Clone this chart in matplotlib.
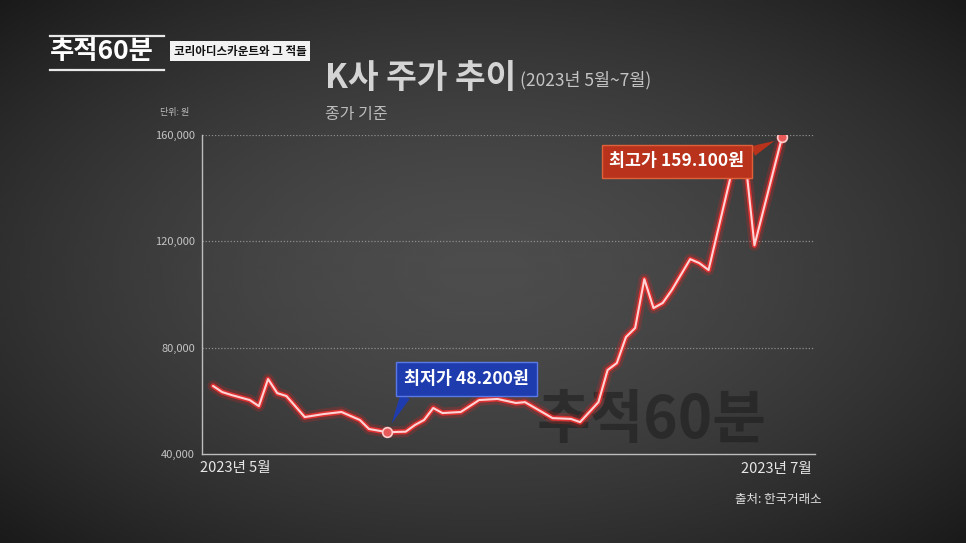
import numpy as np
import matplotlib
matplotlib.use("Agg")
import matplotlib.pyplot as plt
from matplotlib.lines import Line2D

plt.rcParams['font.family'] = ['Noto Sans CJK KR', 'DejaVu Sans']

# trading-day index (May -> July 2023) and closing price in won
days = [0, 1, 2, 4, 5, 6, 7, 8, 10, 12, 14, 16, 17, 19, 21, 22, 23, 24, 25,
        27, 29, 31, 33, 34, 37, 39, 40, 42, 43, 44, 45, 46, 47, 48, 49, 50,
        52, 53, 54, 57, 58, 59, 62]
prices = [65600, 63300, 62200, 60300, 58000, 68200, 62900, 61800, 53900,
          55000, 55800, 52800, 49400, 48200, 48400, 50900, 52800, 57300,
          55400, 55800, 60300, 60700, 59200, 59500, 53500, 53200, 52000,
          59500, 71600, 74200, 84000, 87400, 105800, 94900, 96800, 101700,
          113300, 111800, 109200, 153000, 151000, 118500, 159100]
y_ticks = [40000, 80000, 120000, 160000]
y_tick_labels = ["40,000", "80,000", "120,000", "160,000"]
x_start_label = "2023년 5월"
x_end_label = "2023년 7월"

fig = plt.figure(figsize=(9.66, 5.43), dpi=100)
fig.patch.set_facecolor('#222222')

# chalkboard-like vignette background
bg = fig.add_axes([0, 0, 1, 1], zorder=-5)
bg.axis('off')
yy, xx = np.mgrid[0:1:272j, 0:1:483j]
d = np.sqrt(((xx - 0.5) / 0.62) ** 2 + ((yy - 0.5) / 0.62) ** 2)
shade = np.clip(0.30 - 0.16 * d ** 1.6, 0.09, 0.30)
bg.imshow(shade, cmap='gray', vmin=0, vmax=1, aspect='auto',
          extent=[0, 1, 0, 1], interpolation='bicubic')
bg.set_xlim(0, 1)
bg.set_ylim(0, 1)

# faded watermark
fig.text(0.556, 0.225, "추적60분", fontsize=42, fontweight='bold',
         color='#1c1c1c', alpha=0.55, ha='left', va='center', zorder=-1)

ax = fig.add_axes([0.2091, 0.1639, 0.6346, 0.5875])
ax.set_facecolor('none')
ax.set_xlim(-1.2, 65.6)
ax.set_ylim(40000, 160000)

for s in ['top', 'right']:
    ax.spines[s].set_visible(False)
for s in ['left', 'bottom']:
    ax.spines[s].set_color('#bdbdbd')
    ax.spines[s].set_linewidth(1.0)

for yv in y_ticks[1:]:
    ax.axhline(yv, color='#8e8e8e', lw=0.9, ls=(0, (1, 1.5)), zorder=1)

ax.set_yticks(y_ticks)
ax.set_yticklabels(y_tick_labels)
ax.tick_params(axis='y', length=0, pad=5, labelsize=8, labelcolor='#c4c4c4')
ax.set_xticks([])

# glowing red line
ax.plot(days, prices, color='#ff2020', lw=8, alpha=0.2, zorder=3,
        solid_joinstyle='round', solid_capstyle='round')
ax.plot(days, prices, color='#e43030', lw=3.8, alpha=0.95, zorder=4,
        solid_joinstyle='round', solid_capstyle='round')
ax.plot(days, prices, color='#ffd4d4', lw=1.5, zorder=5,
        solid_joinstyle='round', solid_capstyle='round')

i_min = int(np.argmin(prices))
i_max = int(np.argmax(prices))
for i in (i_min, i_max):
    ax.plot(days[i], prices[i], 'o', ms=7, mfc='#e85a5a', mec='#ffd0d0',
            mew=1.2, zorder=6)

ax.annotate("최저가 48.200원", xy=(days[i_min], prices[i_min]),
            xytext=(79, 53), textcoords='offset pixels',
            ha='center', va='center', fontsize=12.5, fontweight='bold',
            color='white', zorder=8,
            bbox=dict(boxstyle='square,pad=0.45', fc='#1f3cae',
                      ec='#5a78e6', lw=1.0),
            arrowprops=dict(arrowstyle='wedge,tail_width=0.6',
                            fc='#1f3cae', ec='none', relpos=(0.05, 0.1),
                            shrinkA=0, shrinkB=7))

ax.annotate("최고가 159.100원", xy=(days[i_max], prices[i_max]),
            xytext=(-105, -24), textcoords='offset pixels',
            ha='center', va='center', fontsize=12.5, fontweight='bold',
            color='white', zorder=8,
            bbox=dict(boxstyle='square,pad=0.45', fc='#b8321c',
                      ec='#e0603a', lw=1.0),
            arrowprops=dict(arrowstyle='wedge,tail_width=0.6',
                            fc='#b8321c', ec='none', relpos=(0.97, 0.75),
                            shrinkA=0, shrinkB=6))

ax.text(-0.003, -0.022, x_start_label, transform=ax.transAxes, ha='left',
        va='top', fontsize=10.5, color='#e6e6e6')
ax.text(0.995, -0.025, x_end_label, transform=ax.transAxes, ha='right',
        va='top', fontsize=10.5, color='#e6e6e6')

fig.text(0.851, 0.081, "출처: 한국거래소", ha='right', va='center',
         fontsize=9, color='#e0e0e0')
fig.text(0.166, 0.793, "단위: 원", ha='left', va='center', fontsize=6.5,
         color='#bdbdbd')

# title block
fig.text(0.336, 0.855, "K사 주가 추이", ha='left', va='center', fontsize=24,
         fontweight='bold', color='#d4d4d4')
fig.text(0.538, 0.852, "(2023년 5월~7월)", ha='left', va='center',
         fontsize=12.5, color='#c4c4c4')
fig.text(0.336, 0.790, "종가 기준", ha='left', va='center', fontsize=11.5,
         color='#bcbcbc')

# programme logo
fig.text(0.052, 0.906, "추적60분", ha='left', va='center', fontsize=19,
         fontweight='bold', color='white')
fig.add_artist(Line2D([0.052, 0.170], [0.934, 0.934], color='#e8e8e8', lw=1.6))
fig.add_artist(Line2D([0.052, 0.170], [0.872, 0.872], color='#e8e8e8', lw=1.6))
fig.text(0.180, 0.906, "코리아디스카운트와 그 적들", ha='left', va='center',
         fontsize=8.3, fontweight='bold', color='#111111',
         bbox=dict(boxstyle='square,pad=0.3', fc='#f2f2f2', ec='none'))

fig.savefig("out.png", dpi=100, facecolor=fig.get_facecolor())
